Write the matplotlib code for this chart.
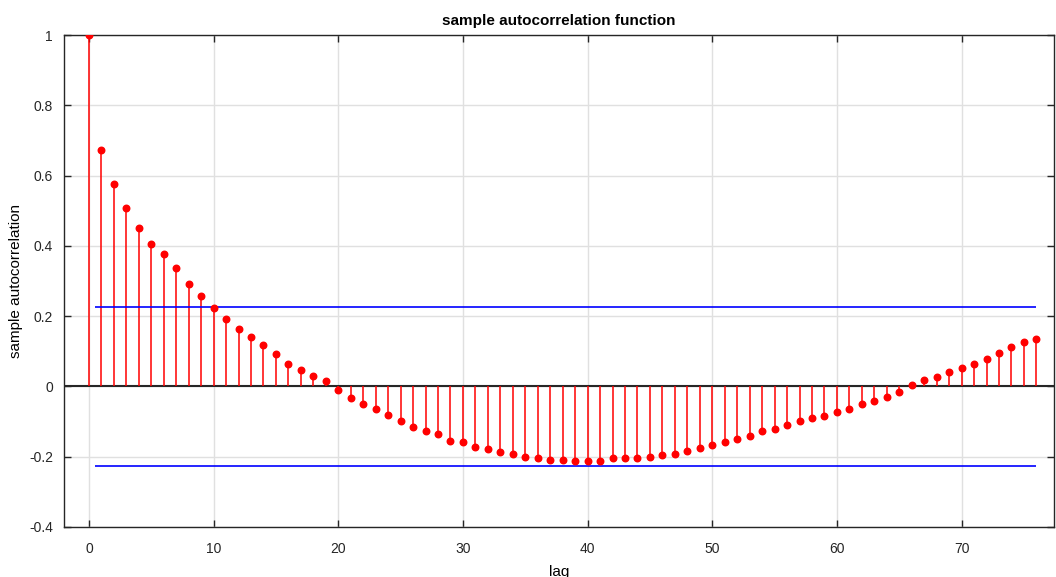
import matplotlib
matplotlib.use('Agg')
import matplotlib.pyplot as plt
import numpy as np

# sample autocorrelation, lags 0..76
lags = np.arange(0, 77)
acf = [1.0, 0.674, 0.576, 0.507, 0.452, 0.404, 0.378, 0.336, 0.292, 0.258,
       0.224, 0.193, 0.163, 0.142, 0.117, 0.091, 0.065, 0.048, 0.031, 0.014,
       -0.011, -0.033, -0.050, -0.064, -0.081, -0.098, -0.115, -0.128, -0.136, -0.154,
       -0.157, -0.171, -0.179, -0.188, -0.193, -0.202, -0.205, -0.209, -0.209, -0.213,
       -0.213, -0.213, -0.205, -0.205, -0.205, -0.201, -0.195, -0.192, -0.184, -0.175,
       -0.167, -0.158, -0.149, -0.140, -0.128, -0.120, -0.110, -0.098, -0.089, -0.084,
       -0.072, -0.064, -0.051, -0.042, -0.029, -0.016, 0.005, 0.018, 0.026, 0.040,
       0.052, 0.065, 0.078, 0.095, 0.112, 0.125, 0.134]
conf_bound = 0.227
bound_span = (0.5, 76)
yticks = [-0.4, -0.2, 0, 0.2, 0.4, 0.6, 0.8, 1]
ytick_labels = ['-0.4', '-0.2', '0', '0.2', '0.4', '0.6', '0.8', '1']
xticks = [0, 10, 20, 30, 40, 50, 60, 70]

plt.rcParams['font.family'] = ['Liberation Sans', 'DejaVu Sans']

fig = plt.figure(figsize=(10.56, 5.77), dpi=100)
ax = fig.add_axes([0.0606, 0.0867, 0.9374, 0.8526])

ax.grid(True, color='#e0e0e0', linewidth=1.0)
ax.set_axisbelow(True)

ax.axhline(0, color='#262626', linewidth=1.5, zorder=2)
ax.vlines(lags, 0, acf, color='red', linewidth=1.1, zorder=3)
ax.plot(lags, acf, 'o', color='red', markersize=4.7, zorder=4)

ax.hlines([conf_bound, -conf_bound], bound_span[0], bound_span[1],
          color='blue', linewidth=1.2, zorder=3)

ax.set_xlim(-2, 77.4)
ax.set_ylim(-0.4, 1)
ax.set_xticks(xticks)
ax.set_yticks(yticks)
ax.set_yticklabels(ytick_labels)
ax.tick_params(direction='in', top=True, right=True, length=5, width=1,
               labelsize=10, colors='#262626')
ax.tick_params(axis='x', pad=11)
ax.tick_params(axis='y', pad=8)
for s in ax.spines.values():
    s.set_color('#262626')
    s.set_linewidth(1.0)

ax.set_title('sample autocorrelation function', fontsize=11, fontweight='bold', pad=7)
ax.set_xlabel('lag', fontsize=11, labelpad=6)
ax.set_ylabel('sample autocorrelation', fontsize=11, labelpad=4)

fig.savefig('out.png', dpi=100)
